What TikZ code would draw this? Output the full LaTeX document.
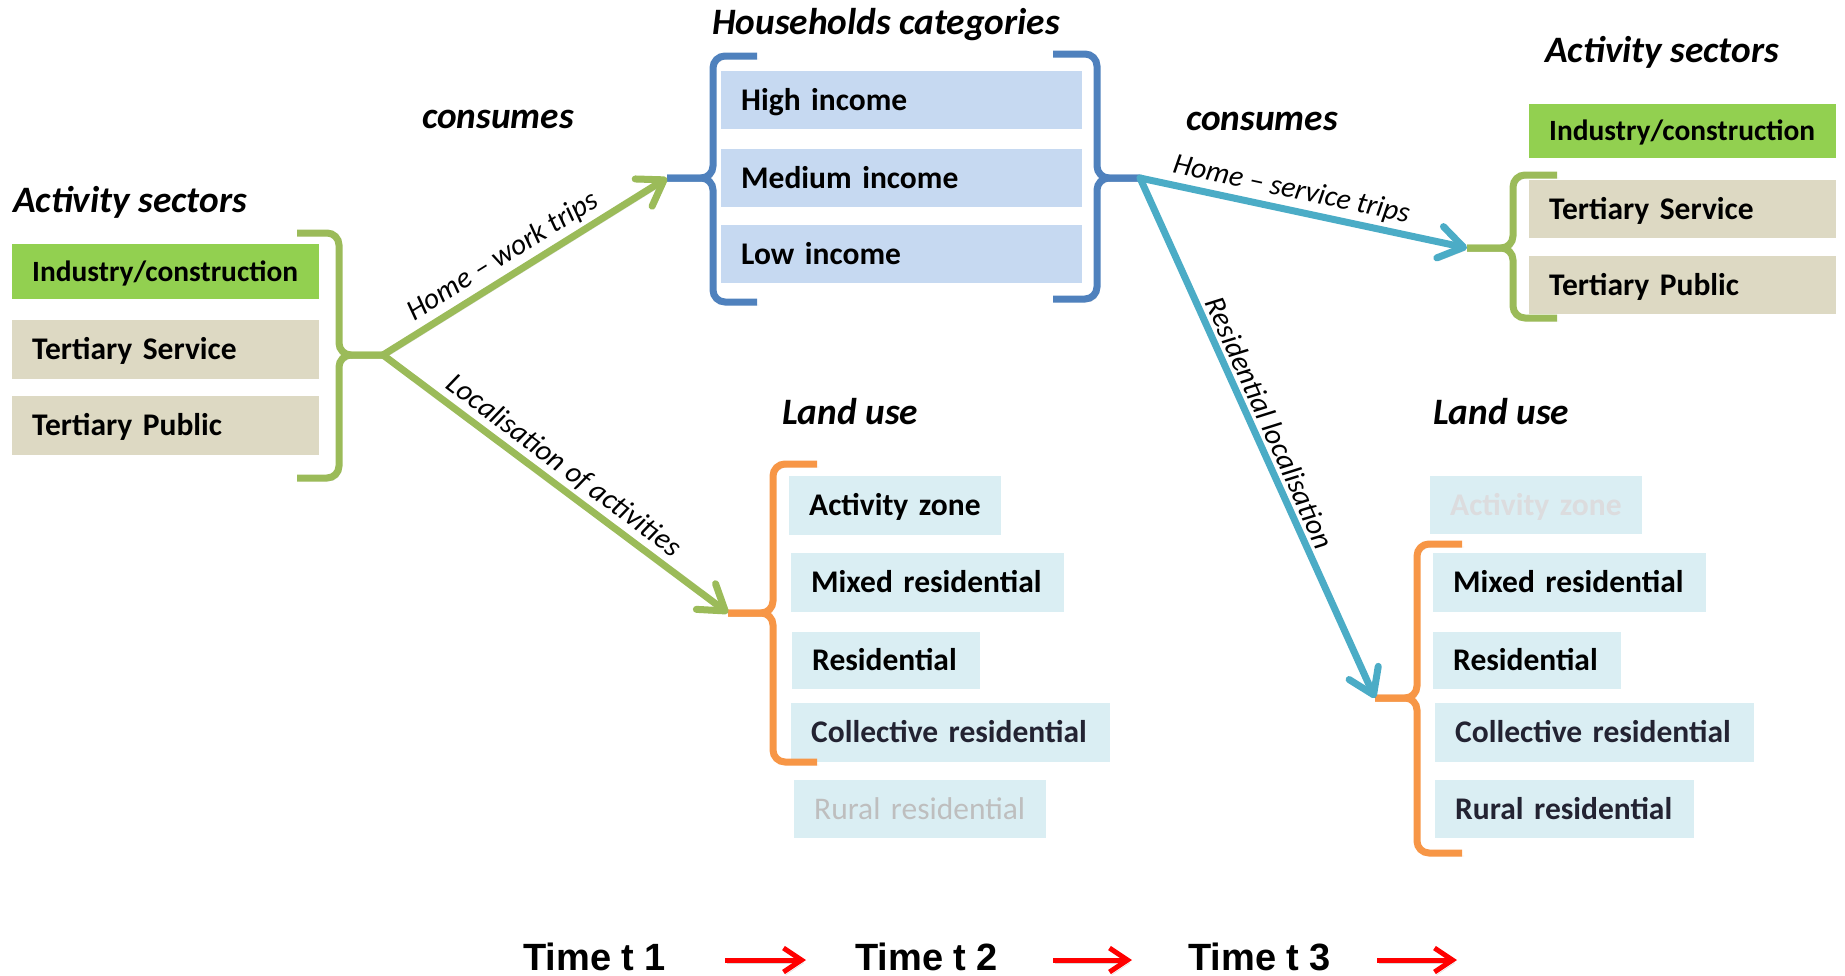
\documentclass[tikz,border=0pt]{standalone}
\usepackage{fontspec}
\setmainfont{Carlito}
\newfontfamily\timefont{Liberation Sans}
\usetikzlibrary{arrows.meta}
\definecolor{boxgreen}{HTML}{92D050}
\definecolor{boxtan}{HTML}{DDD9C3}
\definecolor{boxblue}{HTML}{C6D9F1}
\definecolor{boxcyan}{HTML}{DAEEF3}
\definecolor{lgreen}{HTML}{9BBB59}
\definecolor{lblue}{HTML}{4F81BD}
\definecolor{lcyan}{HTML}{4BACC6}
\definecolor{lorange}{HTML}{F79646}
\definecolor{slate}{RGB}{35,35,50}
\definecolor{fadegray}{RGB}{190,190,190}
\definecolor{fadelight}{RGB}{220,220,222}
\begin{document}
\begin{tikzpicture}[x=1pt,y=-1pt,
  box/.style={anchor=north west, inner xsep=20pt, inner ysep=0pt, text height=20.3pt, text depth=0pt, align=left, font=\fontsize{31.5}{36}\selectfont\bfseries},
  smallbox/.style={box, text height=18.7pt, font=\fontsize{29.4}{34}\selectfont\bfseries},
  title/.style={anchor=base west, inner sep=0pt, font=\fontsize{37.3}{42}\selectfont\bfseries\itshape},
  lbl/.style={font=\fontsize{29.5}{34}\selectfont\itshape, sloped, above, inner sep=4pt},
  shadowed/.style={preaction={draw=black, draw opacity=0.15, transform canvas={shift={(2pt,-3pt)}}}},
  bracket/.style={line width=7pt, rounded corners=12pt, shadowed},
  link/.style={line width=7pt, line cap=round, shadowed, -{Straight Barb[length=24pt, width=32pt, round]}},
  timearrow/.style={draw=red, line width=5pt, shadowed, -{Straight Barb[length=18pt, width=24pt]}},
  timelbl/.style={anchor=base west, inner sep=0pt, font=\fontsize{38}{44}\timefont\bfseries}
]
\useasboundingbox (0,0) rectangle (1845,975);

% ---------- titles ----------
\node[title] (tAS1) at (13,212) {Activity sectors};
\node[title] (tHH) at (712,34) {Households categories};
\node[title] (tC1) at (422,128) {consumes};
\node[title] (tC2) at (1186,130) {consumes};
\node[title] (tAS2) at (1545,62) {Activity sectors};
\node[title] (tLU1) at (782,424) {Land use};
\node[title] (tLU2) at (1433,424) {Land use};

% ---------- left activity sectors ----------
\node[smallbox, fill=boxgreen, text width=267pt, minimum height=55pt] (a1i) at (12,244) {Industry/construction};
\node[box, fill=boxtan, text width=267pt, minimum height=59pt] (a1s) at (12,320) {Tertiary Service};
\node[box, fill=boxtan, text width=267pt, minimum height=59pt] (a1p) at (12,396) {Tertiary Public};

% ---------- households ----------
\node[box, fill=boxblue, text width=321pt, minimum height=58pt] (hh) at (721,71) {High income};
\node[box, fill=boxblue, text width=321pt, minimum height=58pt] (hm) at (721,149) {Medium income};
\node[box, fill=boxblue, text width=321pt, minimum height=58pt] (hl) at (721,225) {Low income};

% ---------- right activity sectors ----------
\node[smallbox, fill=boxgreen, text width=267pt, minimum height=54pt] (a2i) at (1529,104) {Industry/construction};
\node[box, fill=boxtan, text width=267pt, minimum height=58pt] (a2s) at (1529,180) {Tertiary Service};
\node[box, fill=boxtan, text width=267pt, minimum height=58pt] (a2p) at (1529,256) {Tertiary Public};

% ---------- land use left ----------
\node[box, fill=boxcyan, text width=172pt, minimum height=59pt] (l1a) at (789,476) {Activity zone};
\node[box, fill=boxcyan, text width=233pt, minimum height=59pt] (l1m) at (791,553) {Mixed residential};
\node[box, fill=boxcyan, text width=148pt, minimum height=57pt] (l1r) at (792,632) {Residential};
\node[box, fill=boxcyan, text width=279pt, minimum height=59pt, text=slate] (l1c) at (791,703) {Collective residential};
\node[box, fill=boxcyan, text width=212pt, minimum height=58pt, text=fadegray, font=\fontsize{31.5}{36}\selectfont] (l1u) at (794,780) {Rural residential};

% ---------- land use right ----------
\node[box, fill=boxcyan, text width=172pt, minimum height=58pt, text=fadelight] (l2a) at (1430,476) {Activity zone};
\node[box, fill=boxcyan, text width=233pt, minimum height=59pt] (l2m) at (1433,553) {Mixed residential};
\node[box, fill=boxcyan, text width=148pt, minimum height=57pt] (l2r) at (1433,632) {Residential};
\node[box, fill=boxcyan, text width=279pt, minimum height=59pt, text=slate] (l2c) at (1435,703) {Collective residential};
\node[box, fill=boxcyan, text width=219pt, minimum height=58pt, text=slate] (l2u) at (1435,780) {Rural residential};

% ---------- bracket tips ----------
\coordinate (gL) at (383,355);
\coordinate (bL) at (667,178);
\coordinate (bR) at (1140,178);
\coordinate (gR) at (1467,248);
\coordinate (oL) at (728,613);
\coordinate (oR) at (1375,698);

% ---------- brackets ----------
\draw[bracket, lgreen] (297,233) -- (339,233) -- (339,355) -- (gL);
\draw[bracket, lgreen] (gL) -- (339,355) -- (339,478) -- (297,478);

\draw[bracket, lblue] (757,56) -- (713,56) -- (713,178) -- (bL);
\draw[bracket, lblue] (bL) -- (713,178) -- (713,302) -- (757,302);

\draw[bracket, lblue] (1053,54) -- (1097,54) -- (1097,178) -- (bR);
\draw[bracket, lblue] (bR) -- (1097,178) -- (1097,299) -- (1053,299);

\draw[bracket, lgreen] (1557,175) -- (1513,175) -- (1513,248) -- (gR);
\draw[bracket, lgreen] (gR) -- (1513,248) -- (1513,318) -- (1557,318);

\draw[bracket, lorange] (817,464) -- (773,464) -- (773,613) -- (oL);
\draw[bracket, lorange] (oL) -- (773,613) -- (773,762) -- (817,762);

\draw[bracket, lorange] (1462,544) -- (1417,544) -- (1417,698) -- (oR);
\draw[bracket, lorange] (oR) -- (1417,698) -- (1417,853) -- (1462,853);

% ---------- connectors ----------
\draw[link, lgreen] (gL) -- node[lbl, pos=0.46, text=black] {Home – work trips} (bL);
\draw[link, lgreen] (gL) -- node[lbl, pos=0.49, text=black] {Localisation of activities} (oL);
\draw[link, lcyan] (bR) -- node[lbl, pos=0.45, text=black] {Home – service trips} (gR);
\draw[link, lcyan] (bR) -- node[lbl, pos=0.485, text=black] {Residential localisation} (oR);

% ---------- time row ----------
\node[timelbl] (t1) at (523,970) {Time t 1};
\node[timelbl] (t2) at (855,970) {Time t 2};
\node[timelbl] (t3) at (1188,970) {Time t 3};
\coordinate (r1s) at (725,960); \coordinate (r1e) at (806,960);
\coordinate (r2s) at (1053,960); \coordinate (r2e) at (1132,960);
\coordinate (r3s) at (1377,960); \coordinate (r3e) at (1457,960);
\draw[timearrow] (r1s) -- (r1e);
\draw[timearrow] (r2s) -- (r2e);
\draw[timearrow] (r3s) -- (r3e);
\end{tikzpicture}
\end{document}
